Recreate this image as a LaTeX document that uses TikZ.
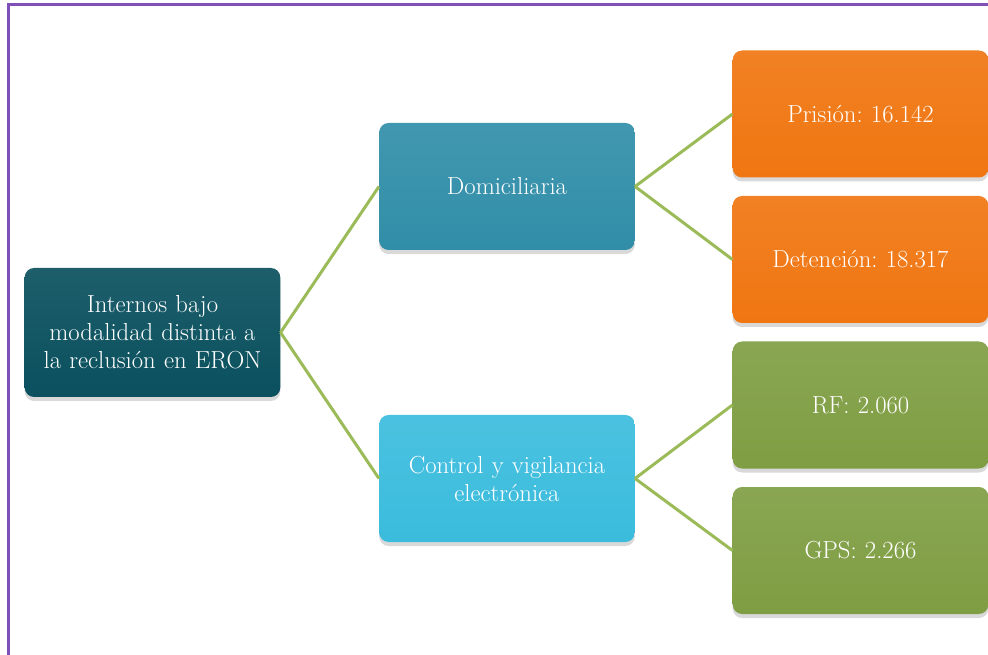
\documentclass[tikz,border=0pt]{standalone}
\usetikzlibrary{shadows}
\definecolor{frameviolet}{RGB}{128,80,184}
\definecolor{rootteal}{RGB}{10,80,94}
\definecolor{domblue}{RGB}{49,142,168}
\definecolor{ctrlblue}{RGB}{59,188,221}
\definecolor{boxorange}{RGB}{240,118,17}
\definecolor{boxgreen}{RGB}{127,158,67}
\definecolor{linkgreen}{RGB}{155,187,89}
\frenchspacing
\tikzset{
  card/.style={rounded corners=7pt, minimum width=190.5pt, minimum height=95.25pt,
    text width=185pt, align=center, text=white, font=\fontsize{18.5}{21}\selectfont,
    top color=#1!92!white, bottom color=#1,
    drop shadow={opacity=0.3, shadow xshift=0pt, shadow yshift=-3pt}},
  link/.style={linkgreen, line width=2.25pt}
}
\begin{document}
\begin{tikzpicture}[x=0.75pt, y=-0.75pt]
    \useasboundingbox (0,0) rectangle (988,655);
    \draw[frameviolet, line width=2.25pt] (8,655) -- (8,5) -- (988,5);
    \node[card=rootteal, minimum width=191.25pt, minimum height=96.75pt] (root) at (152.5,332.5) {Internos bajo\\modalidad distinta a\\la reclusión en ERON};
    \node[card=domblue] (dom) at (507,186.5) {Domiciliaria};
    \node[card=ctrlblue] (ctrl) at (507,478.5) {Control y vigilancia\\electrónica};
    \node[card=boxorange] (prision) at (860.5,114) {Prisión: 16.142};
    \node[card=boxorange] (detencion) at (860.5,259.5) {Detención: 18.317};
    \node[card=boxgreen] (rf) at (860.5,405) {RF: 2.060};
    \node[card=boxgreen] (gps) at (860.5,550.5) {GPS: 2.266};
    \draw[link] (root.east) -- (dom.west);
    \draw[link] (root.east) -- (ctrl.west);
    \draw[link] (dom.east) -- (prision.west);
    \draw[link] (dom.east) -- (detencion.west);
    \draw[link] (ctrl.east) -- (rf.west);
    \draw[link] (ctrl.east) -- (gps.west);
\end{tikzpicture}
\end{document}
